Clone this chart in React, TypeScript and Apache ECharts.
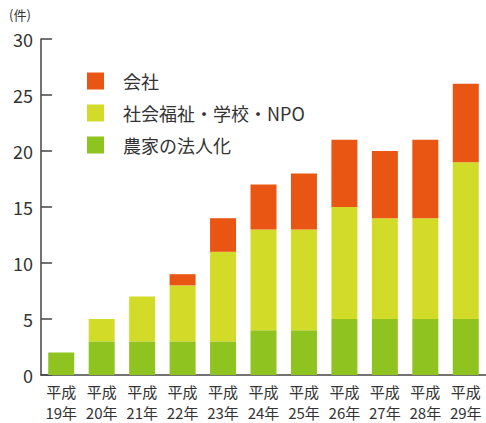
import React, { useEffect, useRef } from "react";
import * as echarts from "echarts";

const categories = ["平成\n19年", "平成\n20年", "平成\n21年", "平成\n22年", "平成\n23年", "平成\n24年", "平成\n25年", "平成\n26年", "平成\n27年", "平成\n28年", "平成\n29年"];
const farm = [2, 3, 3, 3, 3, 4, 4, 5, 5, 5, 5];
const welfare = [0, 2, 4, 5, 8, 9, 9, 10, 9, 9, 14];
const company = [0, 0, 0, 1, 3, 4, 5, 6, 6, 7, 7];
const yTicks = [0, 5, 10, 15, 20, 25, 30];

const FONT = "'Noto Sans CJK JP', 'Noto Sans', sans-serif";

export default function App() {
  const ref = useRef<HTMLDivElement>(null);
  useEffect(() => {
    if (!ref.current) return;
    const chart = echarts.init(ref.current, null, { renderer: "svg" });
    chart.setOption({
      animation: false,
      textStyle: { fontFamily: FONT },
      grid: { left: 41, right: -5, top: 39, bottom: 47, containLabel: false },
      legend: {
        orient: "vertical",
        left: 82,
        top: 67,
        itemWidth: 17,
        itemHeight: 17,
        itemGap: 14,
        icon: "rect",
        data: ["会社", "社会福祉・学校・NPO", "農家の法人化"],
        textStyle: { fontSize: 18, lineHeight: 17, color: "#333", fontFamily: FONT, padding: [0, 0, 0, 14] },
      },
      graphic: [
        { type: "text", left: 9, top: 8, style: { text: "(件)", fontSize: 13, fill: "#333", fontFamily: FONT } },
      ],
      xAxis: {
        type: "category",
        data: categories,
        axisLine: { lineStyle: { color: "#444", width: 1.5 } },
        axisTick: { inside: true, length: 6, alignWithLabel: false, lineStyle: { color: "#444", width: 1.5 } },
        axisLabel: { color: "#333", fontSize: 15, lineHeight: 21, margin: 6, interval: 0, fontFamily: FONT },
      },
      yAxis: {
        type: "value",
        min: yTicks[0],
        max: yTicks[yTicks.length - 1],
        interval: 5,
        axisLine: { show: true, lineStyle: { color: "#444", width: 1.5 } },
        axisTick: { show: true, inside: true, length: 11, lineStyle: { color: "#444", width: 1.5 } },
        splitLine: { show: false },
        axisLabel: { color: "#333", fontSize: 18, margin: 8, fontFamily: FONT },
      },
      series: [
        { name: "農家の法人化", type: "bar", stack: "t", data: farm, barWidth: 26, itemStyle: { color: "#8FC31F" } },
        { name: "社会福祉・学校・NPO", type: "bar", stack: "t", data: welfare, barWidth: 26, itemStyle: { color: "#D2DC28" } },
        { name: "会社", type: "bar", stack: "t", data: company, barWidth: 26, itemStyle: { color: "#E95513" } },
      ],
    });
    return () => chart.dispose();
  }, []);
  return <div ref={ref} style={{ position: "absolute", left: 0, top: 0, width: 486, height: 423 }} />;
}
